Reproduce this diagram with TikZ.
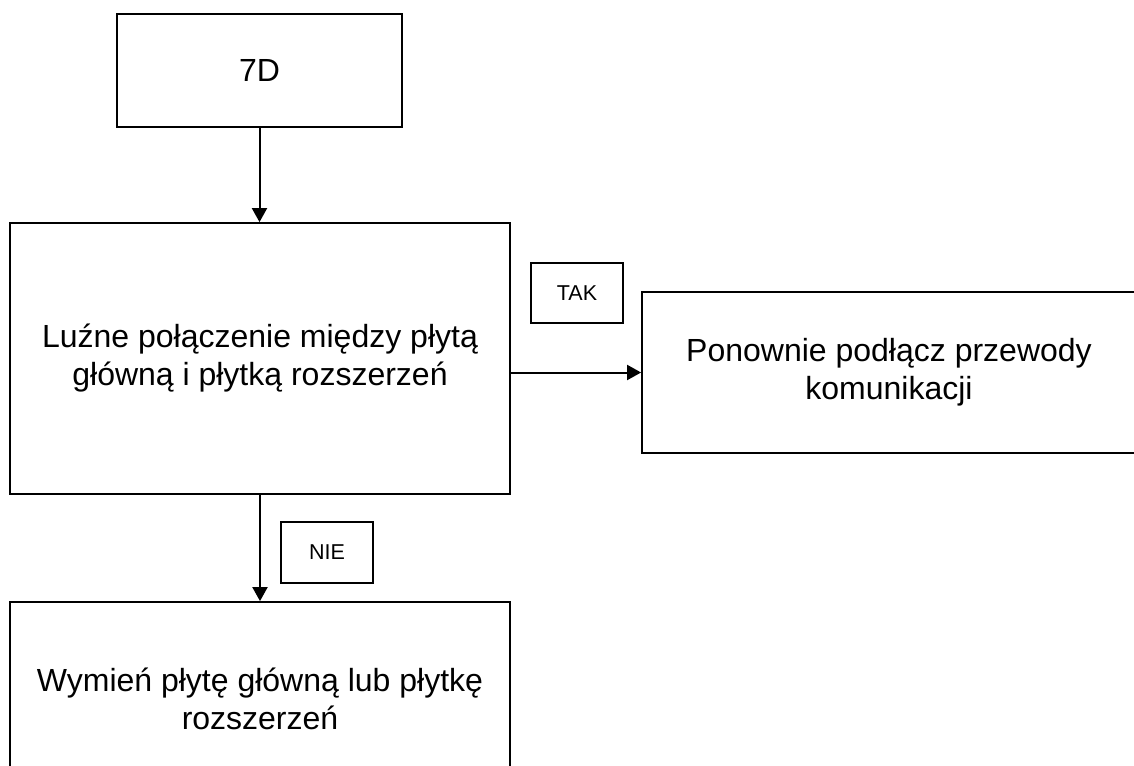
\documentclass[tikz,border=0pt]{standalone}
\usepackage{fontspec}
\setmainfont{Liberation Sans}
\usetikzlibrary{arrows.meta}
\begin{document}
\begin{tikzpicture}[x=1pt,y=1pt,
  box/.style={draw=black, line width=1.8pt, inner sep=0pt, align=center,
    font=\fontsize{32}{38}\selectfont},
  tag/.style={draw=black, line width=1.6pt, inner sep=0pt, align=center,
    font=\fontsize{21.5}{25}\selectfont},
  arr/.style={line width=2pt, -{Triangle[length=14pt,width=15pt]}}]
\useasboundingbox[fill=white] (0,0) rectangle (1134,-765);
\clip (0,0) rectangle (1134,-765);
\node[box, minimum width=285, minimum height=113] (d7) at (259.5,-70.5) {7D};
\node[box, minimum width=500, minimum height=271] (main) at (260,-358.5)
  {Luźne połączenie między płytą\\główną i płytką rozszerzeń};
\node[box, minimum width=494, minimum height=161] (right) at (889,-372.5)
  {Ponownie podłącz przewody\\komunikacji};
\node[box, minimum width=500, minimum height=193] (bottom) at (260,-698.5)
  {Wymień płytę główną lub płytkę\\rozszerzeń};
\node[tag, minimum width=92, minimum height=60] (tak) at (577,-293) {TAK};
\node[tag, minimum width=92, minimum height=61] (nie) at (327,-552.5) {NIE};
\draw[arr] (d7.south) -- (d7.south |- main.north);
\draw[arr] (main.east |- right.west) -- (right.west);
\draw[arr] (main.south) -- (main.south |- bottom.north);
\end{tikzpicture}
\end{document}
